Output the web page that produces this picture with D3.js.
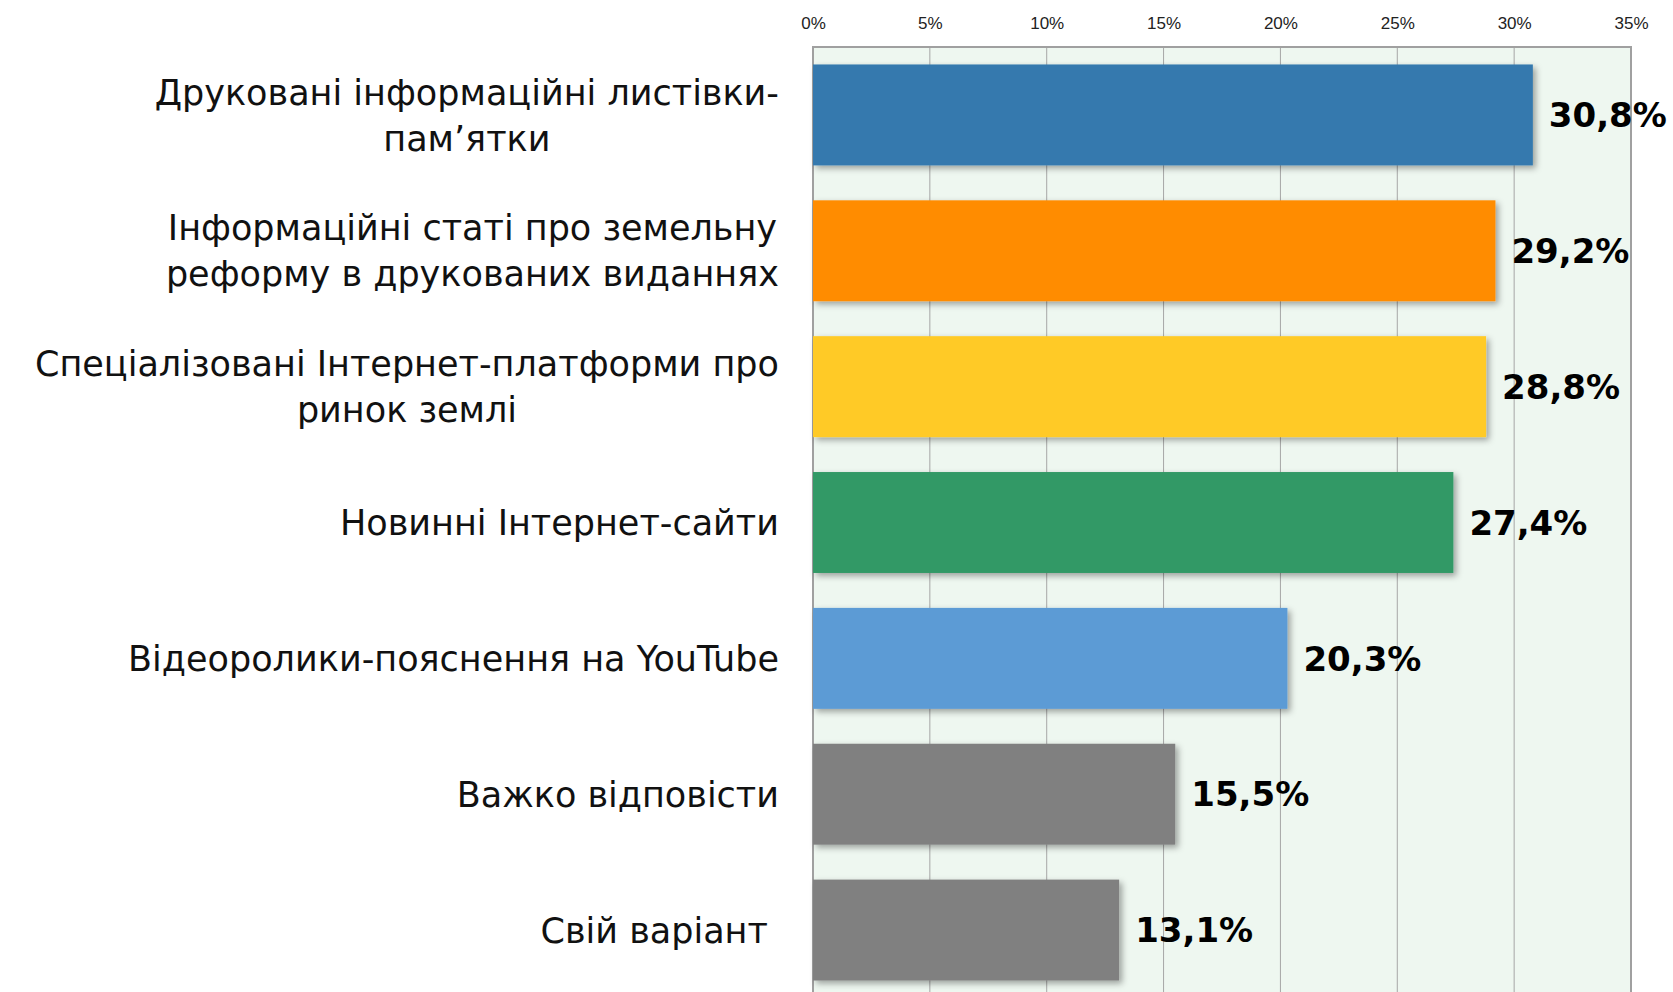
<!DOCTYPE html>
<html>
<head>
<meta charset="utf-8">
<style>
    body { margin: 0; background: #fff; }
    .cat text { font-family: "DejaVu Sans", sans-serif; font-size: 35px; fill: #111; }
    .val { font-family: "DejaVu Sans", sans-serif; font-weight: bold; font-size: 34px; fill: #000; }
    .tick text { font-family: "Liberation Sans", sans-serif; font-size: 17px; fill: #222; }
</style>
</head>
<body>
<svg id="chart" width="1673" height="992"></svg>
<script src="https://cdnjs.cloudflare.com/ajax/libs/d3/7.8.5/d3.min.js"></script>
<script>
    // categories (lines split as in the source)
    var categories = [
        ['Друковані інформаційні листівки-', 'пам’ятки'],
        ['Інформаційні статі про земельну', 'реформу в друкованих виданнях'],
        ['Спеціалізовані Інтернет-платформи про', 'ринок землі'],
        ['Новинні Інтернет-сайти'],
        ['Відеоролики-пояснення на YouTube'],
        ['Важко відповісти'],
        ['Свій варіант ']
    ];
    var values = [30.8, 29.2, 28.8, 27.4, 20.3, 15.5, 13.1];
    var valueLabels = ['30,8%', '29,2%', '28,8%', '27,4%', '20,3%', '15,5%', '13,1%'];
    var colors = ['#3479ae', '#ff8c00', '#ffca28', '#339966', '#5b9bd5', '#808080', '#808080'];
    var ticks = [0, 5, 10, 15, 20, 25, 30, 35];

    var svg = d3.select('#chart');
    var plotLeft = 813, plotRight = 1631, plotTop = 47, plotBottom = 998;
    var labelRight = 779;

    var x = d3.scaleLinear().domain([0, 35]).range([plotLeft, plotRight]);
    var y = d3.scaleBand().domain(d3.range(values.length)).range([plotTop, plotBottom])
        .paddingInner(0.257).paddingOuter(0.1285);

    var defs = svg.append('defs');
    var f = defs.append('filter').attr('id', 'shadow')
        .attr('x', '-5%').attr('y', '-10%').attr('width', '115%').attr('height', '130%');
    f.append('feDropShadow').attr('dx', 3).attr('dy', 3).attr('stdDeviation', 3)
        .attr('flood-color', '#000').attr('flood-opacity', 0.35);

    // plot background
    svg.append('rect')
        .attr('x', plotLeft).attr('y', plotTop)
        .attr('width', plotRight - plotLeft).attr('height', plotBottom - plotTop)
        .attr('fill', '#eef7f0');

    // grid
    svg.append('g').selectAll('line').data(ticks).enter().append('line')
        .attr('x1', function (d) { return x(d); })
        .attr('x2', function (d) { return x(d); })
        .attr('y1', plotTop).attr('y2', plotBottom)
        .attr('stroke', '#a6a6a6').attr('stroke-width', 1);

    // plot border
    svg.append('rect')
        .attr('x', plotLeft).attr('y', plotTop)
        .attr('width', plotRight - plotLeft).attr('height', plotBottom - plotTop)
        .attr('fill', 'none').attr('stroke', '#a0a0a0').attr('stroke-width', 2);

    // top axis labels
    var axis = d3.axisTop(x).tickValues(ticks).tickSize(0).tickPadding(0)
        .tickFormat(function (d) { return d + '%'; });
    var gAxis = svg.append('g').attr('transform', 'translate(0,29)').call(axis);
    gAxis.select('.domain').remove();
    gAxis.selectAll('text').attr('dy', 0);

    // bars
    svg.append('g').selectAll('rect').data(values).enter().append('rect')
        .attr('x', plotLeft)
        .attr('y', function (d, i) { return y(i); })
        .attr('width', function (d) { return x(d) - plotLeft; })
        .attr('height', y.bandwidth())
        .attr('fill', function (d, i) { return colors[i]; })
        .attr('filter', 'url(#shadow)');

    // value labels
    svg.append('g').selectAll('text').data(values).enter().append('text')
        .attr('class', 'val')
        .attr('x', function (d) { return x(d) + 16; })
        .attr('y', function (d, i) { return y(i) + y.bandwidth() / 2; })
        .attr('dy', '0.36em')
        .text(function (d, i) { return valueLabels[i]; });

    // category labels, lines centred on each other, block right aligned
    var gCat = svg.append('g').attr('class', 'cat');
    categories.forEach(function (lines, i) {
        var cy = y(i) + y.bandwidth() / 2;
        var g = gCat.append('g');
        var texts = lines.map(function (l, j) {
            return g.append('text')
                .attr('y', cy + (j - (lines.length - 1) / 2) * 46)
                .attr('dy', '0.36em')
                .attr('text-anchor', 'middle')
                .attr('xml:space', 'preserve')
                .text(l);
        });
        var w = d3.max(texts, function (t) { return t.node().getComputedTextLength(); });
        texts.forEach(function (t) { t.attr('x', labelRight - w / 2); });
    });
</script>
</body>
</html>
